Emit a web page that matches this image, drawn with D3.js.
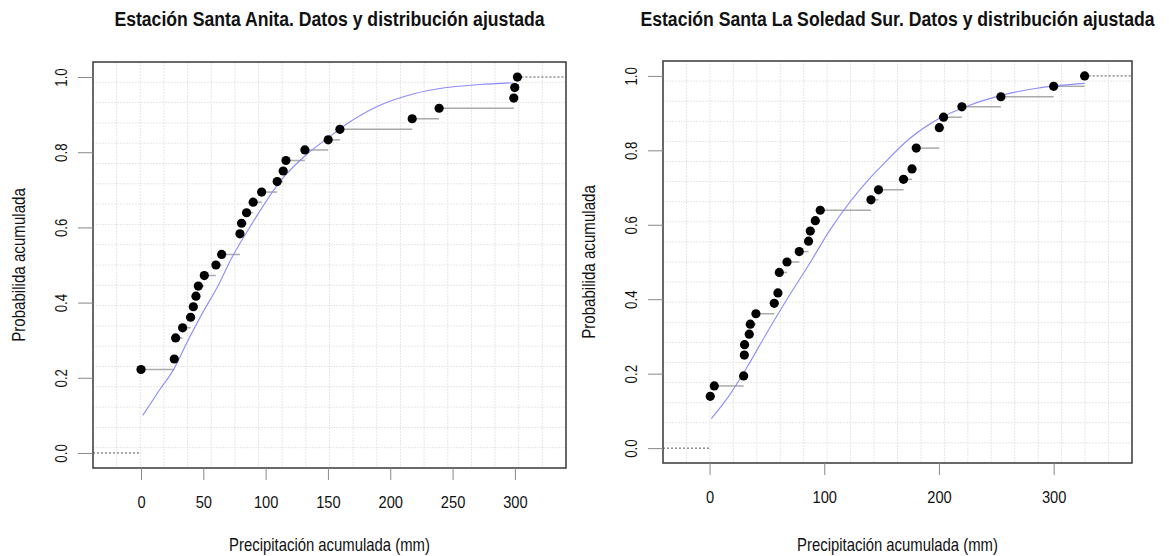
<!DOCTYPE html>
<html>
<head>
<meta charset="utf-8">
<script src="https://cdn.jsdelivr.net/npm/d3@7"></script>
<style>
  body { margin: 0; background: #fff; }
  text { font-family: "Liberation Sans", Arial, sans-serif; fill: #111; }
</style>
</head>
<body>
<div id="viz"></div>
<script>
// --- datos ---
// Santa Anita: puntos de la ecdf
var anitaX = [0, 26.7, 27.8, 33.4, 39.8, 42, 44.1, 46, 50.8, 60.1, 64.7, 79.4, 80.7, 84.7, 90, 96.8,
              109.3, 114.1, 116.3, 131.5, 150.2, 159.6, 217.6, 239.2, 299.1, 299.9, 302];
var anitaP = [0.222, 0.25, 0.306, 0.333, 0.361, 0.389, 0.417, 0.444, 0.472, 0.5, 0.528, 0.583, 0.611,
              0.639, 0.667, 0.694, 0.722, 0.75, 0.778, 0.806, 0.833, 0.861, 0.889, 0.917, 0.944, 0.972, 1.0];
// curva ajustada
var anitaCurveX = [1.4, 15, 26.7, 36.6, 47.3, 63.4, 71.4, 90, 111.5, 131.5, 150, 165, 191.7, 218.4, 245, 271.8, 298.6];
var anitaCurveP = [0.10, 0.168, 0.225, 0.292, 0.36, 0.455, 0.51, 0.615, 0.722, 0.79, 0.838, 0.875, 0.925, 0.955, 0.972, 0.98, 0.985];

// La Soledad Sur
var soledadX = [0.6, 4.1, 29.7, 30.3, 30.5, 34.6, 35.5, 40.4, 56.4, 59.6, 60.8, 67.5, 78.2, 86.3, 87.8, 92.2, 96.5,
                140.7, 147.3, 169.1, 176.5, 180.2, 200.3, 204, 220, 254, 300, 327];
var soledadP = [0.139, 0.167, 0.194, 0.25, 0.278, 0.306, 0.333, 0.361, 0.389, 0.417, 0.472, 0.5, 0.528, 0.556,
                0.583, 0.611, 0.639, 0.667, 0.694, 0.722, 0.75, 0.806, 0.861, 0.889, 0.917, 0.944, 0.972, 1.0];
var soledadCurveX = [1.5, 18, 32.6, 50, 67.5, 86, 105.2, 140, 149, 175, 198.2, 227.3, 256.3, 285.4, 327];
var soledadCurveP = [0.079, 0.145, 0.217, 0.31, 0.40, 0.49, 0.587, 0.726, 0.755, 0.833, 0.882, 0.922, 0.949, 0.967, 0.98];

var anitaTicks = [0, 50, 100, 150, 200, 250, 300];
var soledadTicks = [0, 100, 200, 300];
var probTicks = [0, 0.2, 0.4, 0.6, 0.8, 1.0];

var W = 1169, H = 556;
var svg = d3.select("#viz").append("svg").attr("width", W).attr("height", H);

// texto algo estrecho, como en la figura original
function label(parent, x, y, rot, sx, size, str, bold) {
    return parent.append("text")
        .attr("transform", "translate(" + x + "," + y + ") rotate(" + rot + ") scale(" + sx + ",1)")
        .attr("text-anchor", "middle")
        .style("font-size", size + "px")
        .style("font-weight", bold ? "bold" : "normal")
        .text(str);
}

function panel(cfg) {
    var x = d3.scaleLinear().domain(cfg.xdom).range([cfg.left, cfg.right]);
    var y = d3.scaleLinear().domain([-0.04, 1.04]).range([cfg.bottom, cfg.top]);
    var g = svg.append("g");

    // rejilla 20 x 20
    var gw = (cfg.right - cfg.left) / 20, gh = (cfg.bottom - cfg.top) / 20;
    for (var k = 1; k < 20; k++) {
        g.append("line").attr("x1", cfg.left + k * gw).attr("x2", cfg.left + k * gw)
            .attr("y1", cfg.top).attr("y2", cfg.bottom)
            .style("stroke", "#e6e6e6").style("stroke-dasharray", "2,1");
        g.append("line").attr("x1", cfg.left).attr("x2", cfg.right)
            .attr("y1", cfg.top + k * gh).attr("y2", cfg.top + k * gh)
            .style("stroke", "#e6e6e6").style("stroke-dasharray", "2,1");
    }

    var xs = cfg.xs, ps = cfg.ps, n = xs.length;
    // extensiones punteadas en 0 y 1
    g.append("line").attr("x1", cfg.left).attr("x2", x(xs[0]))
        .attr("y1", y(0)).attr("y2", y(0))
        .style("stroke", "#555").style("stroke-dasharray", "2,2");
    g.append("line").attr("x1", x(xs[n - 1])).attr("x2", cfg.right)
        .attr("y1", y(1)).attr("y2", y(1))
        .style("stroke", "#555").style("stroke-dasharray", "2,2");

    // escalones
    g.selectAll(".seg").data(d3.range(n - 1)).enter().append("line")
        .attr("x1", function(i){ return x(xs[i]); })
        .attr("x2", function(i){ return x(xs[i + 1]); })
        .attr("y1", function(i){ return y(ps[i]); })
        .attr("y2", function(i){ return y(ps[i]); })
        .style("stroke", "#aaa").style("stroke-width", 1.5);

    // curva ajustada
    var line = d3.line()
        .x(function(d){ return x(d[0]); })
        .y(function(d){ return y(d[1]); })
        .curve(d3.curveMonotoneX);
    g.append("path").datum(d3.zip(cfg.cx, cfg.cp)).attr("d", line)
        .style("fill", "none").style("stroke", "#8c8cff").style("stroke-width", 1.1);

    // puntos
    g.selectAll(".pt").data(d3.range(n)).enter().append("circle")
        .attr("cx", function(i){ return x(xs[i]); })
        .attr("cy", function(i){ return y(ps[i]); })
        .attr("r", 4.6).style("fill", "#000");

    // caja
    g.append("rect").attr("x", cfg.left).attr("y", cfg.top)
        .attr("width", cfg.right - cfg.left).attr("height", cfg.bottom - cfg.top)
        .style("fill", "none").style("stroke", "#444").style("stroke-width", 1.6);

    // eje x
    var ax = g.append("g").attr("transform", "translate(0," + cfg.bottom + ")")
        .call(d3.axisBottom(x).tickValues(cfg.ticks).tickSize(12).tickFormat(d3.format("d")));
    ax.select(".domain").remove();
    ax.selectAll("line").style("stroke", "#888");
    ax.selectAll("text").attr("y", 0).attr("dy", 0)
        .attr("transform", "translate(0,40.3) scale(0.9,1)")
        .style("font-size", "16.3px").style("fill", "#111");

    // eje y
    var ay = g.append("g").attr("transform", "translate(" + cfg.left + ",0)")
        .call(d3.axisLeft(y).tickValues(probTicks).tickSize(15).tickFormat(d3.format(".1f")));
    ay.select(".domain").remove();
    ay.selectAll("line").style("stroke", "#888");
    ay.selectAll("text").attr("x", 0).attr("y", 0).attr("dy", 0)
        .attr("transform", "translate(-26,0) rotate(-90) scale(0.83,1)")
        .attr("text-anchor", "middle")
        .style("font-size", "16px").style("fill", "#111");

    var mx = (cfg.left + cfg.right) / 2, my = (cfg.top + cfg.bottom) / 2;
    label(svg, mx, 26, 0, 0.84, 21, cfg.title, true);
    label(svg, mx, 551, 0, 0.85, 17.5, "Precipitación acumulada (mm)", false);
    label(svg, cfg.ylab, my, -90, 0.84, 18, "Probabilida acumulada", false);
}

panel({ left: 93, right: 566, top: 62, bottom: 468, xdom: [-38.5, 341],
        xs: anitaX, ps: anitaP, cx: anitaCurveX, cp: anitaCurveP, ticks: anitaTicks, ylab: 25,
        title: "Estación Santa Anita. Datos y distribución ajustada" });
panel({ left: 663, right: 1132, top: 61, bottom: 463, xdom: [-40.6, 368.3],
        xs: soledadX, ps: soledadP, cx: soledadCurveX, cp: soledadCurveP, ticks: soledadTicks, ylab: 595,
        title: "Estación Santa La Soledad Sur. Datos y distribución ajustada" });
</script>
</body>
</html>
